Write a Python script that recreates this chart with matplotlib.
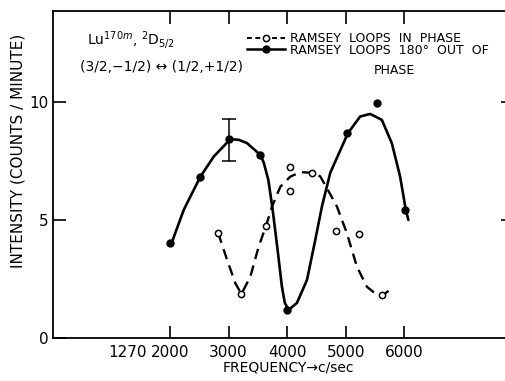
import matplotlib
matplotlib.use("Agg")
import matplotlib.pyplot as plt
from matplotlib.lines import Line2D

# Ramsey loops 180 deg out of phase (filled dots)
out_freq = [2000, 2520, 3000, 3540, 4000, 5020, 5530, 6020]
out_int = [4.02, 6.85, 8.45, 7.77, 1.19, 8.69, 9.98, 5.44]

# hand-drawn solid curve
out_curve_freq = [2025, 2234, 2519, 2746, 3031, 3177, 3316, 3543, 3600, 3680,
                  3750, 3830, 3910, 3960, 4025, 4168, 4339, 4481, 4595, 4737,
                  5038, 5248, 5419, 5618, 5789, 5931, 6028, 6072]
out_curve_int = [4.02, 5.44, 6.85, 7.70, 8.44, 8.41, 8.27, 7.77, 7.45, 6.70,
                 5.50, 3.90, 2.20, 1.50, 1.19, 1.49, 2.46, 4.16, 5.58, 7.01,
                 8.69, 9.40, 9.51, 9.26, 8.27, 6.85, 5.44, 5.01]

# Ramsey loops in phase (open circles)
in_freq = [2820, 3220, 3640, 4050, 4050, 4430, 4830, 5230, 5620]
in_int = [4.47, 1.87, 4.76, 7.25, 6.25, 7.02, 4.54, 4.42, 1.82]

# hand-drawn dashed curve
in_curve_freq = [2821, 2975, 3116, 3219, 3372, 3514, 3640, 3742, 3884, 4055,
                 4225, 4435, 4566, 4680, 4851, 5021, 5192, 5362, 5533, 5635, 5816]
in_curve_int = [4.47, 3.31, 2.32, 1.87, 2.60, 3.88, 4.76, 5.58, 6.42, 6.85,
                7.04, 7.01, 6.86, 6.36, 5.58, 4.45, 3.03, 2.18, 1.83, 1.80, 2.18]

# error bar on the 3000 c/sec point
err_freq = [3000]
err_int = [8.45]
err_low = [0.92]
err_high = [0.83]

xticks = [2000, 3000, 4000, 5000, 6000]
yticks = [0, 5, 10]

fig = plt.figure(figsize=(5.06, 3.81), dpi=100)
ax = fig.add_axes([53 / 506, 1 - 338 / 381, 453 / 506, 327.5 / 381])

ax.plot(out_curve_freq, out_curve_int, color="k", lw=1.9, solid_capstyle="round",
        solid_joinstyle="round")
ax.plot(in_curve_freq, in_curve_int, color="k", lw=1.7, dashes=(4.5, 2.8))
ax.plot(out_freq, out_int, "o", color="k", ms=5)
ax.plot(in_freq, in_int, "o", mfc="white", mec="k", mew=1.1, ms=4.5)
ax.errorbar(err_freq, err_int, yerr=[err_low, err_high], fmt="none",
            ecolor="k", elinewidth=1.1, capsize=5, capthick=1.1)

ax.set_xlim(0, 7740)
ax.set_ylim(0, 13.9)
ax.set_xticks(xticks)
ax.set_xticks([1270], labels=["1270"], minor=True)
ax.set_yticks(yticks)
ax.tick_params(axis="x", which="major", direction="in", length=9, width=1.2,
               labelsize=11, pad=5, top=True)
ax.tick_params(axis="x", which="minor", length=0, labelsize=11, pad=5)
ax.tick_params(axis="y", direction="in", length=9, width=1.2, labelsize=11, pad=3)
for side in ["left", "bottom", "top"]:
    ax.spines[side].set_linewidth(1.3)
ax.spines["right"].set_visible(False)

right = ax.secondary_yaxis("right")
right.set_yticks([5, 10])
right.tick_params(direction="in", length=3.5, width=1.2, labelright=False)
right.spines["right"].set_visible(False)

ax.set_xlabel("FREQUENCY\u2192c/sec", fontsize=10)
ax.xaxis.set_label_coords(0.519, -0.07)
ax.set_ylabel("INTENSITY (COUNTS / MINUTE)", fontsize=11)
ax.yaxis.set_label_coords(-0.06, 0.571)

fig.text(87 / 506, 1 - 40 / 381, r"Lu$^{170m}$, $^{2}$D$_{5/2}$", fontsize=10,
         va="center")
fig.text(80 / 506, 1 - 67 / 381, "(3/2,\u22121/2) \u2194 (1/2,+1/2)", fontsize=10,
         va="center")

h_in = Line2D([], [], color="k", lw=1.4, dashes=(2.5, 1.8), marker="o", ms=4.5,
              mfc="white", mec="k", mew=1.1)
h_out = Line2D([], [], color="k", lw=1.8, marker="o", ms=5)
fig.legend([h_in, h_out],
           ["RAMSEY  LOOPS  IN  PHASE", "RAMSEY  LOOPS  180\u00b0  OUT  OF"],
           loc="upper left", bbox_to_anchor=(247 / 506, 1 - 32 / 381),
           frameon=False, fontsize=9, handlelength=3.0, handletextpad=0.4,
           labelspacing=-0.1, borderpad=0, borderaxespad=0, numpoints=1)
fig.text(394 / 506, 1 - 70 / 381, "PHASE", fontsize=9, ha="center", va="center")

fig.savefig("out.png", dpi=100)
